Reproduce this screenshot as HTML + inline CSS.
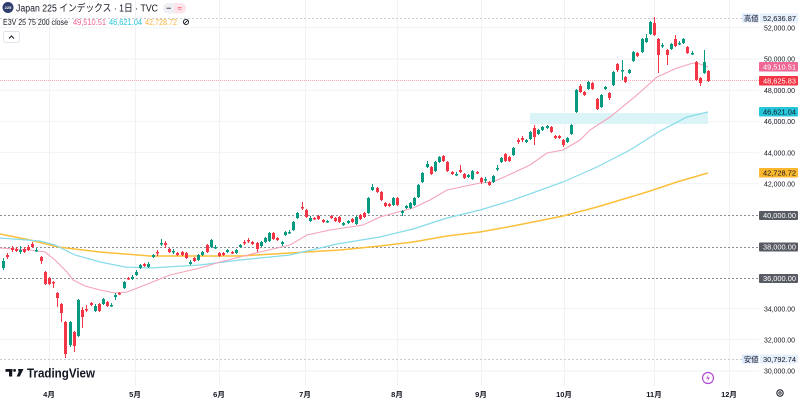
<!DOCTYPE html>
<html><head><meta charset="utf-8"><style>
html,body{margin:0;padding:0;background:#fff;width:800px;height:401px;overflow:hidden}
svg{display:block}
text{font-family:"Liberation Sans","Noto Sans CJK JP",sans-serif}
</style></head><body>
<svg width="800" height="401" viewBox="0 0 800 401" xmlns="http://www.w3.org/2000/svg">
<rect width="800" height="401" fill="#fff"/>
<!-- grid -->
<g stroke="#f0f2f6" stroke-width="1">
<path d="M0 27.8H759M0 59H759M0 90.2H759M0 121.4H759M0 152.6H759M0 183.8H759M0 308.6H759M0 339.8H759M0 371H759"/>
<path d="M49.5 0V386M135.5 0V386M219.5 0V386M305.5 0V386M397.5 0V386M481.5 0V386M564.5 0V386M654.5 0V386M729.5 0V386"/>
</g>
<!-- box -->
<rect x="530" y="113" width="178" height="11" fill="#dbf4f7"/>
<!-- high/low lines -->
<g stroke="#c9ccd4" stroke-width="1" stroke-dasharray="2 2">
<path d="M0 18.5H742M0 359.5H742"/>
</g>
<!-- level lines -->
<g stroke="#8a8d96" stroke-width="1" stroke-dasharray="2 2">
<path d="M0 215.5H759M0 247.5H759M0 278.5H759"/>
</g>
<path d="M0 80.5H759" stroke="#f6a5ae" stroke-width="1" stroke-dasharray="1 1"/>
<!-- MAs -->
<polyline fill="none" stroke="#fcbf3a" stroke-width="1.5" points="0,234 30,240 58,247 100,252 150,256 200,256 240,256 290,253 340,250 380,246 413,242 447,236 480,232 513,226 563,216 597,207 647,192 680,181 708,173"/>
<polyline fill="none" stroke="#86dbe9" stroke-width="1.2" points="0,238 40,241 55,245 65,250 75,255 100,262 125,267 150,268 200,265 240,260 290,255 337,244 380,237 413,229 447,218 480,210 513,200 563,182 597,167 630,150 660,131 687,117 708,112"/>
<polyline fill="none" stroke="#f5a3b9" stroke-width="1.1" points="0,248 30,250 45,252 55,260 67,272 73,280 85,286 100,290 115,293 127,292 140,287 150,283 170,275 200,268 220,262 240,257 260,252 290,245 307,235 330,230 363,225 380,217 413,208 430,200 447,190 480,183 493,182 513,173 530,165 547,153 563,150 580,140 590,130 610,117 637,95 657,77 677,68 693,63 700,64 708,67"/>
<!-- candles green -->
<g fill="none" stroke="#089981" stroke-linecap="butt">
<path stroke-width="1" d="M3.5 258V270M20.5 246V254M36.5 248V252M70.5 321V347M78.5 299V337M95.5 304V312M103.5 298V305M111.5 303V307M115.5 293V300M124.5 281V289M132.5 275V280M136.5 270V276M140.5 264V269M148.5 262V268M153.5 254V258M161.5 239V246M173.5 249V254M190.5 260V265M198.5 254V261M202.5 251V256M211.5 239V248M215.5 245V249M227.5 249V253M236.5 249V254M240.5 244V248M261.5 241V247M265.5 237V243M269.5 232V242M282.5 241V246M285.5 231V236M289.5 230V234M293.5 221V231M297.5 212V219M310.5 216V222M327.5 220V223M343.5 222V226M348.5 220V224M356.5 216V225M368.5 197V214M372.5 184V191M393.5 197V206M402.5 210V216M406.5 205V209M410.5 202V209M414.5 197V206M418.5 184V198M422.5 172V183M427.5 161V168M435.5 161V172M439.5 156V163M456.5 172V176M468.5 174V178M472.5 170V180M485.5 177V183M493.5 175V183M497.5 165V171M501.5 157V163M513.5 147V156M526.5 139V143M530.5 131V140M538.5 129V135M542.5 126V131M547.5 125V129M567.5 137V143M571.5 124V135M576.5 89V113M588.5 81V90M601.5 94V108M605.5 86V90M613.5 71V86M622.5 60V80M629.5 69V74M633.5 51V62M642.5 38V53M646.5 34V43M650.5 21V35M662.5 43V48M671.5 43V50M679.5 41V45M683.5 38V44M692.5 51V55M704.5 50V74"/>
<path stroke-width="3" d="M3.5 261V268M20.5 250V252M36.5 250V251.5M70.5 322V345M78.5 300V336M95.5 306V311M103.5 299V304M111.5 305V306.5M115.5 295V297M124.5 282V288M132.5 277V279M136.5 272V275M140.5 265V268M148.5 264V267M153.5 255V257M161.5 243V244.5M173.5 251V252.5M190.5 262V264M198.5 255V260M202.5 252V255M211.5 240V247M215.5 247V248.5M227.5 250V252M236.5 250V253M240.5 245V247M261.5 242V246M265.5 238V242M269.5 233V241M282.5 242V244M285.5 232V235M289.5 232V233.5M293.5 222V230M297.5 213V218M310.5 218V221M327.5 221V222.5M343.5 223V225M348.5 221V223M356.5 217V224M368.5 198V213M372.5 187V190M393.5 198V205M402.5 211V213M406.5 206V208M410.5 203V208M414.5 198V205M418.5 185V197M422.5 173V182M427.5 164V167M435.5 162V171M439.5 157V162M456.5 174V175.5M468.5 175V177M472.5 171V179M485.5 179V180.5M493.5 176V182M497.5 168V169.5M501.5 158V162M513.5 148V155M526.5 140V142M530.5 132V139M538.5 130V134M542.5 127V130M547.5 126V128M567.5 138V142M571.5 125V134M576.5 90V112M588.5 82V89M601.5 95V107M605.5 87V89M613.5 72V85M622.5 70V71.5M629.5 70V73M633.5 52V61M642.5 39V52M646.5 38V42M650.5 22V34M662.5 45V46.5M671.5 44V49M679.5 43V44.5M683.5 39V43M692.5 53V54.5M704.5 62V73"/>
</g>
<!-- candles red -->
<g fill="none" stroke="#f23645" stroke-linecap="butt">
<path stroke-width="1" d="M7.5 253V259M12.5 246V252M16.5 247V252M24.5 247V253M28.5 245V251M32.5 242V248M41.5 256V264M45.5 271V285M49.5 277V285M53.5 281V288M57.5 292V307M61.5 303V322M65.5 321V358M74.5 331V352M82.5 307V328M86.5 305V312M91.5 302V306M99.5 303V312M107.5 301V307M119.5 292V295M128.5 277V280M144.5 263V267M157.5 250V256M165.5 241V248M169.5 248V253M177.5 252V256M182.5 251V256M186.5 252V259M194.5 257V262M207.5 244V253M219.5 252V257M223.5 252V256M232.5 251V254M244.5 240V245M248.5 238V243M252.5 241V245M257.5 242V252M273.5 232V240M277.5 237V241M302.5 202V210M306.5 209V218M314.5 217V220M318.5 215V220M323.5 219V223M331.5 215V219M335.5 217V222M339.5 216V223M352.5 218V223M360.5 214V220M364.5 212V218M377.5 187V193M381.5 191V201M385.5 202V207M389.5 203V207M397.5 197V206M431.5 166V175M443.5 155V162M447.5 161V172M452.5 171V175M460.5 165V173M464.5 173V179M477.5 171V174M481.5 177V184M489.5 181V186M505.5 153V162M509.5 156V162M518.5 138V144M522.5 136V142M534.5 125V145M551.5 126V133M555.5 135V139M559.5 135V139M563.5 139V147M580.5 84V93M584.5 91V96M592.5 82V90M597.5 98V110M609.5 92V100M617.5 63V72M625.5 76V83M637.5 52V57M654.5 17V36M658.5 38V73M667.5 49V65M675.5 35V47M687.5 46V54M696.5 61V81M700.5 77V86M708.5 70V82"/>
<path stroke-width="3" d="M7.5 255V257M12.5 248V250M16.5 249V251M24.5 249V252M28.5 247V250M32.5 244V247M41.5 257V261M45.5 272V284M49.5 278V284M53.5 282V283.5M57.5 293V298M61.5 304V313M65.5 322V354M74.5 332V346M82.5 310V317M86.5 309V310.5M91.5 303V305M99.5 304V311M107.5 302V306M119.5 293V294.5M128.5 278V279.5M144.5 264V266M157.5 252V253.5M165.5 243V245M169.5 249V252M177.5 253V255M182.5 252V255M186.5 253V258M194.5 258V261M207.5 245V252M219.5 253V256M223.5 253V255M232.5 252V253.5M244.5 242V243.5M248.5 240V241.5M252.5 242V244M257.5 243V249M273.5 233V239M277.5 238V240M302.5 207V208.5M306.5 210V217M314.5 218V219.5M318.5 216V219M323.5 220V222M331.5 216V218M335.5 218V221M339.5 217V222M352.5 219V222M360.5 215V219M364.5 213V217M377.5 188V192M381.5 192V200M385.5 203V206M389.5 204V206M397.5 198V205M431.5 167V174M443.5 156V161M447.5 162V171M452.5 172V174M460.5 170V172M464.5 174V178M477.5 172V173.5M481.5 178V182M489.5 182V185M505.5 154V161M509.5 157V161M518.5 140V142M522.5 138V140M534.5 128V137M551.5 127V132M555.5 136V138M559.5 136V138M563.5 140V145M580.5 86V92M584.5 92V95M592.5 83V89M597.5 99V109M609.5 93V98M617.5 64V70M625.5 77V82M637.5 53V56M654.5 23V35M658.5 39V55M667.5 50V55M675.5 39V46M687.5 47V53M696.5 62V80M700.5 78V83M708.5 71V81"/>
</g>
<!-- price axis labels -->
<g font-size="7.5" fill="#131722">
<text x="764" y="30.5" textLength="31" lengthAdjust="spacingAndGlyphs">52,000.00</text>
<text x="764" y="61.7" textLength="31" lengthAdjust="spacingAndGlyphs">50,000.00</text>
<text x="764" y="92.9" textLength="31" lengthAdjust="spacingAndGlyphs">48,000.00</text>
<text x="764" y="124.1" textLength="31" lengthAdjust="spacingAndGlyphs">46,000.00</text>
<text x="764" y="155.3" textLength="31" lengthAdjust="spacingAndGlyphs">44,000.00</text>
<text x="764" y="186.5" textLength="31" lengthAdjust="spacingAndGlyphs">42,000.00</text>
<text x="764" y="311.3" textLength="31" lengthAdjust="spacingAndGlyphs">34,000.00</text>
<text x="764" y="342.5" textLength="31" lengthAdjust="spacingAndGlyphs">32,000.00</text>
<text x="764" y="373.7" textLength="31" lengthAdjust="spacingAndGlyphs">30,000.00</text>
</g>
<!-- colored labels -->
<rect x="742" y="13.5" width="17" height="9" fill="#dce8fb"/>
<rect x="760" y="13.5" width="38" height="9" fill="#e6effc"/>
<text x="744" y="20.8" font-size="7.2" fill="#131722">高値</text>
<text x="763" y="20.8" font-size="7.5" fill="#131722" textLength="33" lengthAdjust="spacingAndGlyphs">52,636.87</text>
<rect x="742" y="354.5" width="17" height="9" fill="#dce8fb"/>
<rect x="760" y="354.5" width="38" height="9" fill="#e6effc"/>
<text x="744" y="361.8" font-size="7.2" fill="#131722">安値</text>
<text x="763" y="361.8" font-size="7.5" fill="#131722" textLength="33" lengthAdjust="spacingAndGlyphs">30,792.74</text>
<rect x="759" y="62" width="39" height="9.5" rx="1" fill="#ee6795"/>
<text x="763" y="69.3" font-size="7.5" fill="#fff" textLength="33" lengthAdjust="spacingAndGlyphs">49,510.51</text>
<rect x="759" y="76" width="39" height="9.5" rx="1" fill="#f23645"/>
<text x="763" y="83.3" font-size="7.5" fill="#fff" textLength="33" lengthAdjust="spacingAndGlyphs">48,625.83</text>
<rect x="759" y="107" width="39" height="9.5" rx="1" fill="#26c6da"/>
<text x="763" y="114.3" font-size="7.5" fill="#131722" textLength="33" lengthAdjust="spacingAndGlyphs">46,621.04</text>
<rect x="759" y="168" width="39" height="9.5" rx="1" fill="#fbb72e"/>
<text x="763" y="175.3" font-size="7.5" fill="#131722" textLength="33" lengthAdjust="spacingAndGlyphs">42,728.72</text>
<rect x="759" y="211" width="39" height="9" rx="1" fill="#585b64"/>
<text x="763" y="218" font-size="7.5" fill="#fff" textLength="33" lengthAdjust="spacingAndGlyphs">40,000.00</text>
<rect x="759" y="242.5" width="39" height="9" rx="1" fill="#585b64"/>
<text x="763" y="249.5" font-size="7.5" fill="#fff" textLength="33" lengthAdjust="spacingAndGlyphs">38,000.00</text>
<rect x="759" y="274" width="39" height="9" rx="1" fill="#585b64"/>
<text x="763" y="281" font-size="7.5" fill="#fff" textLength="33" lengthAdjust="spacingAndGlyphs">36,000.00</text>
<!-- x axis -->
<g font-size="7.5" font-weight="bold" fill="#131722" text-anchor="middle">
<text x="49" y="397">4月</text>
<text x="135" y="397">5月</text>
<text x="219" y="397">6月</text>
<text x="305" y="397">7月</text>
<text x="397" y="397">8月</text>
<text x="481" y="397">9月</text>
<text x="564" y="397">10月</text>
<text x="654" y="397">11月</text>
<text x="729" y="397">12月</text>
</g>
<!-- gear -->
<circle cx="780" cy="393" r="3.2" fill="none" stroke="#131722" stroke-width="1"/>
<circle cx="780" cy="393" r="1.2" fill="none" stroke="#131722" stroke-width="0.8"/>
<!-- lightning -->
<circle cx="708" cy="378" r="5.5" fill="#fff" stroke="#b04ad0" stroke-width="1.2"/>
<path d="M709 374.5L706 378.5H708.3L707 381.5L710 377.5H707.8Z" fill="#b04ad0"/>
<!-- TV logo -->
<rect x="5.5" y="369" width="7" height="2.8" fill="#131722"/>
<rect x="9" y="369" width="3.2" height="7.5" fill="#131722"/>
<circle cx="14.6" cy="370.4" r="1.4" fill="#131722"/>
<polygon points="18,369 23.5,369 19.8,376.5 16.6,376.5 18.6,372" fill="#131722"/>
<text x="27" y="377.5" font-size="12.5" font-weight="bold" fill="#131722" textLength="68" lengthAdjust="spacingAndGlyphs">TradingView</text>
<!-- header -->
<circle cx="8" cy="7.5" r="5.5" fill="#2e3d6b"/>
<text x="8" y="9" font-size="4" fill="#fff" text-anchor="middle" font-weight="bold">225</text>
<text x="16" y="11.3" font-size="10" fill="#131722" textLength="142" lengthAdjust="spacingAndGlyphs">Japan 225 インデックス · 1日 · TVC</text>
<rect x="163" y="3" width="23" height="10.5" rx="5.2" fill="#eef0f3"/>
<path d="M174 3H180.8A5.2 5.2 0 0 1 180.8 13.5H174Z" fill="#fde3ea"/>
<path d="M166.5 8.3H171" stroke="#6a6d78" stroke-width="1.2"/>
<text x="179.8" y="11" font-size="8" fill="#f23645" text-anchor="middle">≈</text>
<g font-size="8">
<text x="3" y="25" fill="#131722" textLength="65" lengthAdjust="spacingAndGlyphs">E3V 25 75 200 close</text>
<text x="73" y="25" fill="#f06292" textLength="33" lengthAdjust="spacingAndGlyphs">49,510.51</text>
<text x="109" y="25" fill="#26c6da" textLength="33" lengthAdjust="spacingAndGlyphs">46,621.04</text>
<text x="145" y="25" fill="#ffb23e" textLength="32" lengthAdjust="spacingAndGlyphs">42,728.72</text>
</g>
<circle cx="186" cy="22" r="2.6" fill="none" stroke="#131722" stroke-width="0.9"/>
<path d="M184.2 23.8L187.8 20.2" stroke="#131722" stroke-width="0.9"/>
<rect x="3.5" y="31.5" width="16" height="11" rx="2" fill="#fff" stroke="#e0e3eb"/>
<path d="M9 38.5L11.5 36L14 38.5" fill="none" stroke="#131722" stroke-width="1"/>
</svg>
</body></html>
